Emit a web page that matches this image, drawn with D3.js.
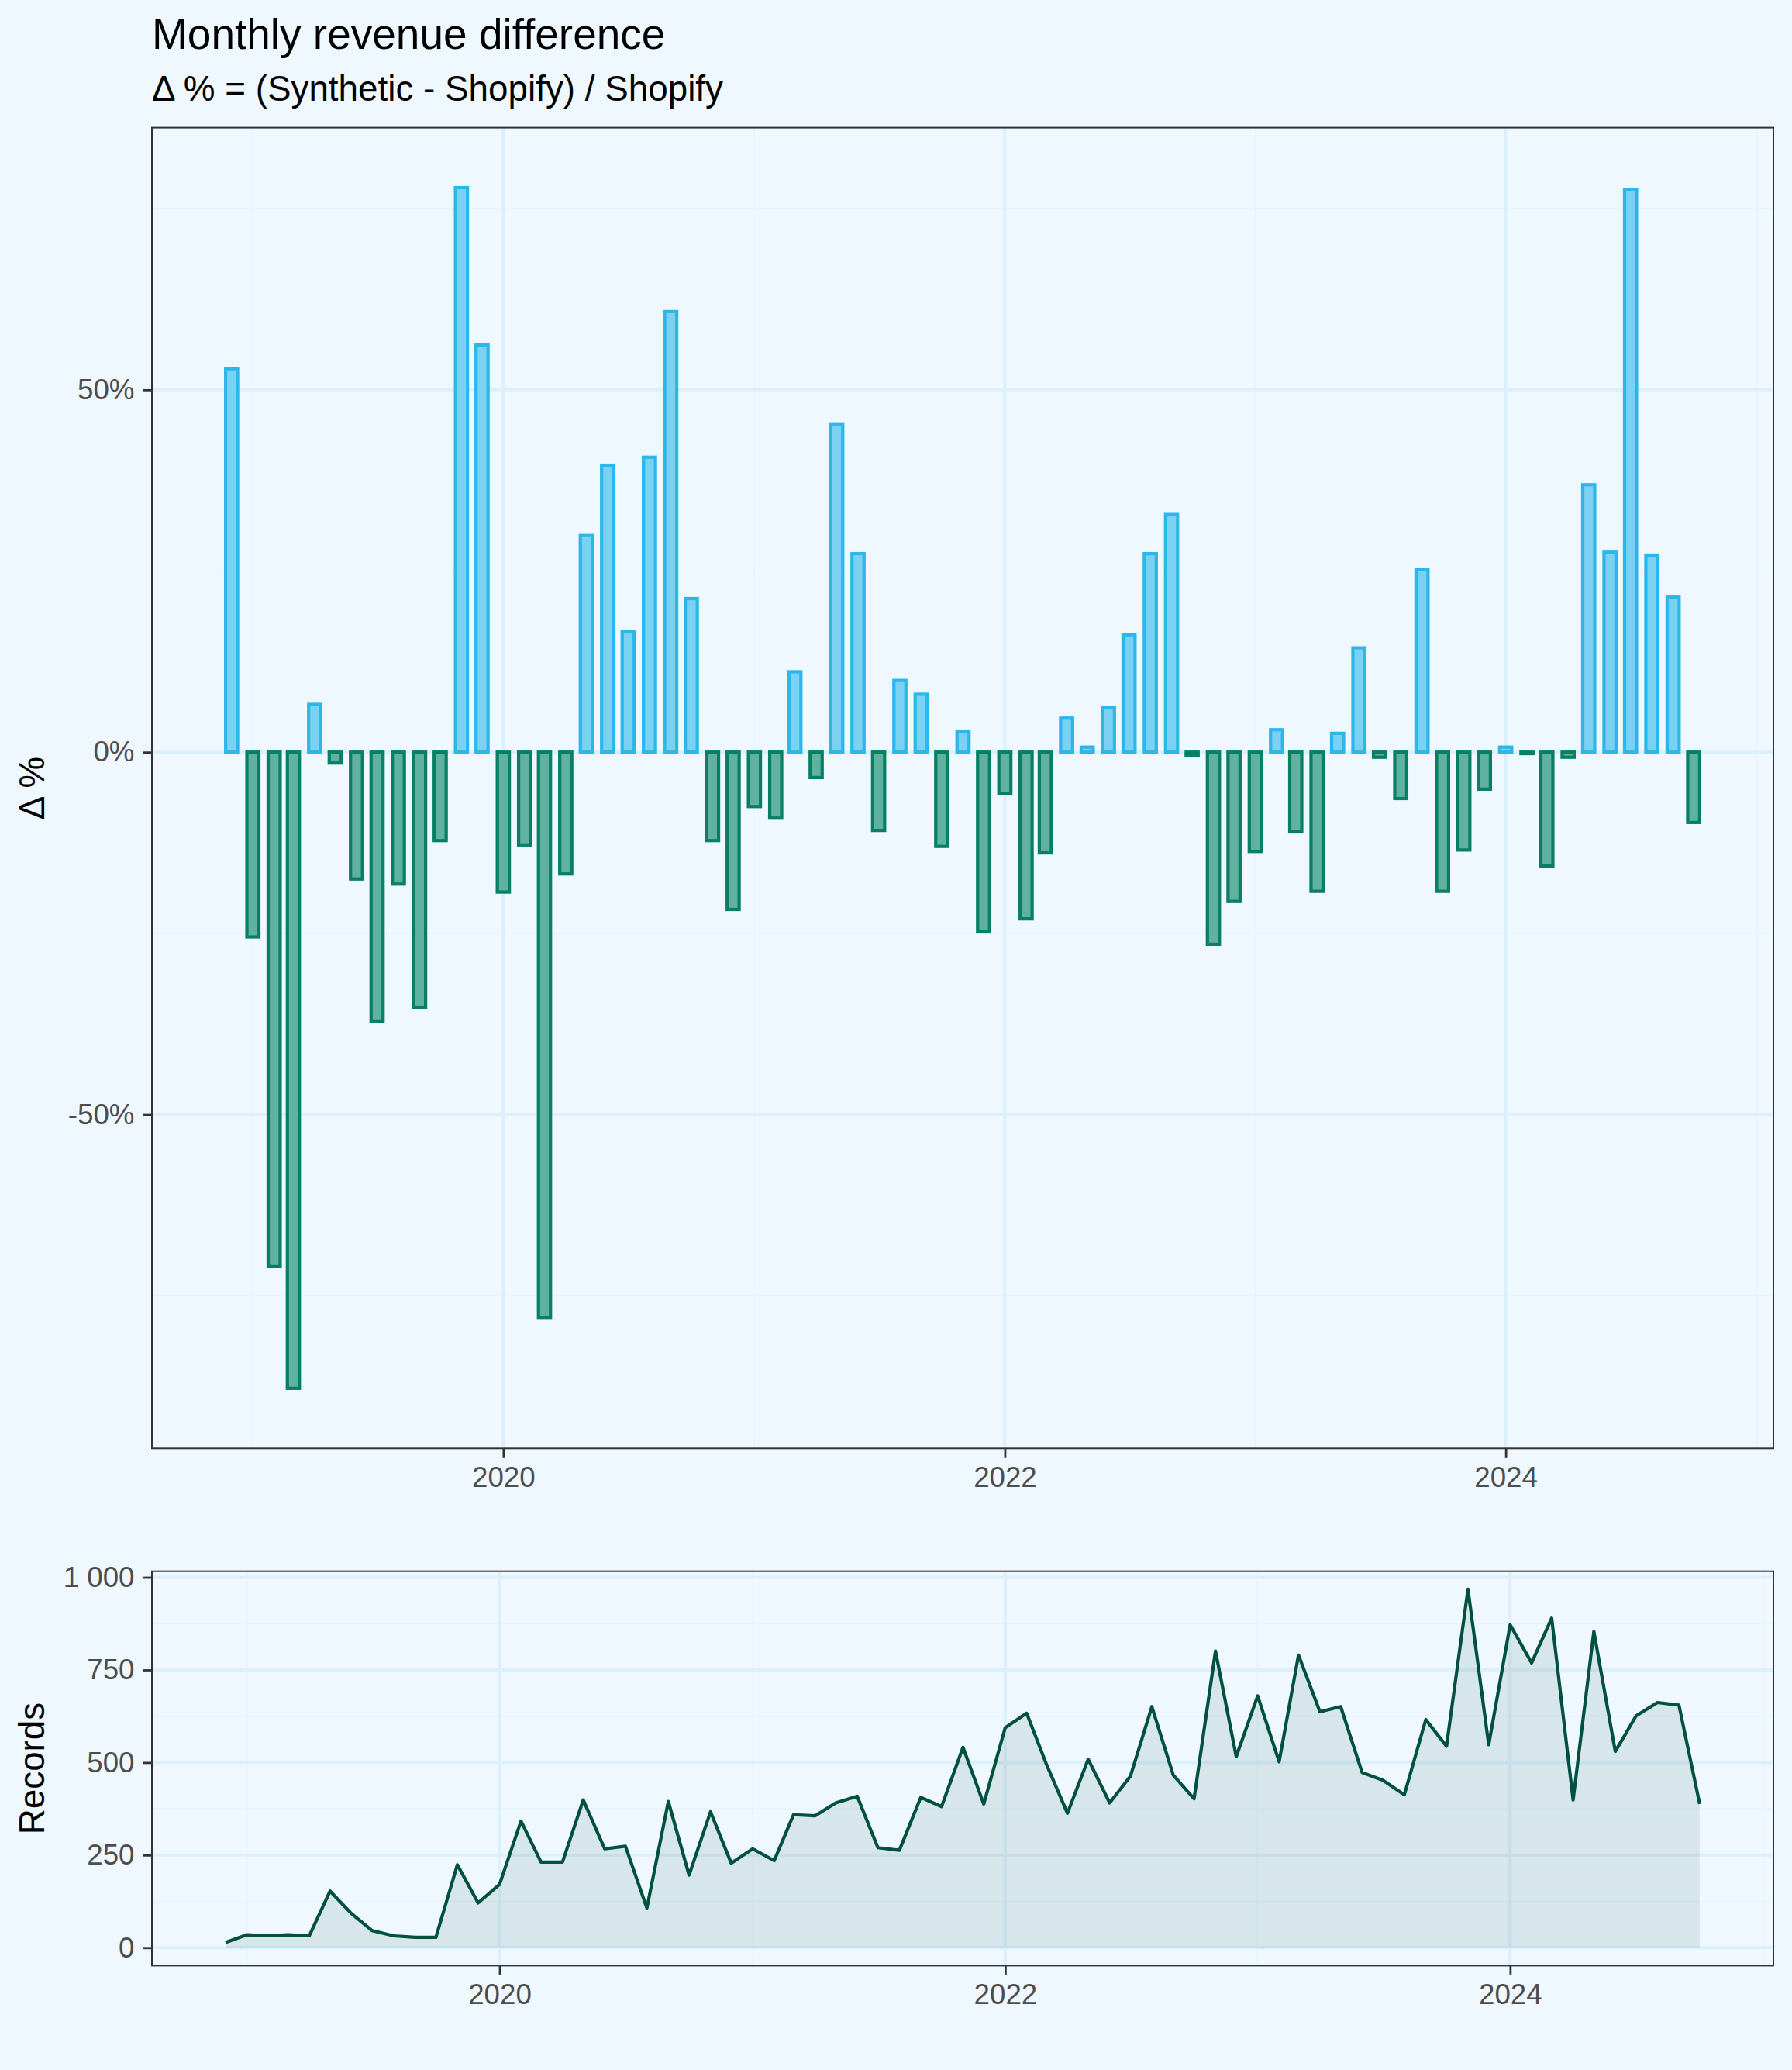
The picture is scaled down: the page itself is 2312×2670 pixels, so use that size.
<!DOCTYPE html>
<html>
<head>
<meta charset="utf-8">
<script src="https://cdn.jsdelivr.net/npm/d3@7"></script>
<style>
  html, body { margin: 0; padding: 0; background: #F0F8FF; }
  svg { display: block; font-family: "Liberation Sans", Arial, Helvetica, sans-serif; }
</style>
</head>
<body>
<div class="canvas"></div>
<script>
// months shown (one bar / one point per month)
const months = [
  "2018-12",
  "2019-01","2019-02","2019-03","2019-04","2019-05","2019-06","2019-07","2019-08","2019-09","2019-10","2019-11","2019-12",
  "2020-01","2020-02","2020-03","2020-04","2020-05","2020-06","2020-07","2020-08","2020-09","2020-10","2020-11","2020-12",
  "2021-01","2021-02","2021-03","2021-04","2021-05","2021-06","2021-07","2021-08","2021-09","2021-10","2021-11","2021-12",
  "2022-01","2022-02","2022-03","2022-04","2022-05","2022-06","2022-07","2022-08","2022-09","2022-10","2022-11","2022-12",
  "2023-01","2023-02","2023-03","2023-04","2023-05","2023-06","2023-07","2023-08","2023-09","2023-10","2023-11","2023-12",
  "2024-01","2024-02","2024-03","2024-04","2024-05","2024-06","2024-07","2024-08","2024-09","2024-10"
];

// Δ % = (Synthetic - Shopify) / Shopify
const deltaPct = [
  52.9,
  -25.5, -71.0, -87.8, 6.6, -1.5, -17.5, -37.2, -18.2, -35.2, -12.2, 77.9, 56.2,
  -19.3, -12.8, -78.0, -16.8, 29.9, 39.6, 16.6, 40.7, 60.8, 21.2, -12.2, -21.7,
  -7.5, -9.1, 11.1, -3.5, 45.3, 27.4, -10.8, 9.9, 8.0, -13.0, 2.9, -24.8,
  -5.7, -23.0, -13.9, 4.7, 0.7, 6.2, 16.2, 27.4, 32.8, -0.4, -26.5, -20.6,
  -13.7, 3.1, -11.0, -19.2, 2.6, 14.4, -0.7, -6.4, 25.2, -19.2, -13.5, -5.1,
  0.7, -0.2, -15.7, -0.7, 36.9, 27.6, 77.6, 27.2, 21.4, -9.7
];

// records per month
const records = [
  14,
  35, 32, 35, 32, 153, 92, 46, 32, 28, 28, 224, 121,
  171, 342, 231, 231, 399, 267, 274, 107, 395, 196, 367, 228,
  267, 235, 359, 356, 391, 409, 270, 263, 406, 381, 541, 388,
  594, 633, 498, 363, 509, 391, 463, 651, 466, 402, 801, 516,
  680, 502, 790, 637, 651, 473, 452, 413, 616, 544, 968, 548,
  872, 769, 890, 399, 854, 530, 626, 662, 655, 388
];

const yTicksTop = [-50, 0, 50];
const yTicksBottom = [0, 250, 500, 750, 1000];
const xTickYears = [2020, 2022, 2024];

const width = 2312;
const height = 2670;
const DAY = 864e5;
const barDays = 17.5;

const bg = "#F0F8FF";
const posStroke = "#2CB7EA", posFill = "#7BD1F1";
const negStroke = "#068060", negFill = "#60B1A0";
const lineColor = "#00503F";
const gridMajor = "#DCEFFC", gridMinor = "#E7F5FD";
const axisText = "#4D4D4D", frame = "#333333";

const parse = d3.utcParse("%Y-%m");
const bars = months.map((m, i) => ({ date: parse(m), value: deltaPct[i] }));
const counts = months.map((m, i) => ({ date: parse(m), value: records[i] }));

const panelTop = { left: 196, top: 164.6, right: 2288, bottom: 1868.3 };
const panelBot = { left: 196, top: 2026.7, right: 2288, bottom: 2535.4 };

function expand([a, b], f = 0.05) {
  const pad = (b - a) * f;
  return [a - pad, b + pad];
}

const half = barDays / 2 * DAY;
const xTop = d3.scaleUtc()
  .domain(expand([+d3.min(bars, d => d.date) - half, +d3.max(bars, d => d.date) + half]).map(t => new Date(t)))
  .range([panelTop.left, panelTop.right]);

const yTop = d3.scaleLinear()
  .domain(expand([Math.min(0, d3.min(deltaPct)), Math.max(0, d3.max(deltaPct))]))
  .range([panelTop.bottom, panelTop.top]);

const xBot = d3.scaleUtc()
  .domain(expand([+d3.min(counts, d => d.date), +d3.max(counts, d => d.date)]).map(t => new Date(t)))
  .range([panelBot.left, panelBot.right]);

const yBot = d3.scaleLinear()
  .domain(expand([0, d3.max(records)]))
  .range([panelBot.bottom, panelBot.top]);

const svg = d3.select(".canvas").append("svg")
  .attr("width", width)
  .attr("height", height);

svg.append("rect").attr("width", width).attr("height", height).attr("fill", bg);

// titles
svg.append("text")
  .attr("x", 196).attr("y", 63)
  .attr("font-size", 55).attr("fill", "#000")
  .text("Monthly revenue difference");
svg.append("text")
  .attr("x", 196).attr("y", 130)
  .attr("font-size", 45.8).attr("fill", "#000")
  .text("Δ % = (Synthetic - Shopify) / Shopify");

function yearDate(y) { return new Date(Date.UTC(y, 0, 1)); }

function drawGrid(g, p, x, y, majorY, minorY) {
  const minorYears = [2019, 2021, 2023, 2025].map(yearDate)
    .filter(d => x(d) > p.left && x(d) < p.right);
  g.append("g").selectAll("line").data(minorY).join("line")
    .attr("x1", p.left).attr("x2", p.right)
    .attr("y1", d => y(d)).attr("y2", d => y(d))
    .attr("stroke", gridMinor).attr("stroke-width", 2);
  g.append("g").selectAll("line").data(minorYears).join("line")
    .attr("x1", d => x(d)).attr("x2", d => x(d))
    .attr("y1", p.top).attr("y2", p.bottom)
    .attr("stroke", gridMinor).attr("stroke-width", 2);
  g.append("g").selectAll("line").data(majorY).join("line")
    .attr("x1", p.left).attr("x2", p.right)
    .attr("y1", d => y(d)).attr("y2", d => y(d))
    .attr("stroke", gridMajor).attr("stroke-width", 4);
  g.append("g").selectAll("line").data(xTickYears.map(yearDate)).join("line")
    .attr("x1", d => x(d)).attr("x2", d => x(d))
    .attr("y1", p.top).attr("y2", p.bottom)
    .attr("stroke", gridMajor).attr("stroke-width", 4);
}

function drawAxes(p, x, y, yTicks, yFormat) {
  const gx = svg.append("g")
    .attr("transform", `translate(0, ${p.bottom})`)
    .call(d3.axisBottom(x)
      .tickValues(xTickYears.map(yearDate))
      .tickFormat(d3.utcFormat("%Y"))
      .tickSize(11.5).tickPadding(12));
  const gy = svg.append("g")
    .attr("transform", `translate(${p.left}, 0)`)
    .call(d3.axisLeft(y)
      .tickValues(yTicks)
      .tickFormat(yFormat)
      .tickSize(11.5).tickPadding(11));
  [gx, gy].forEach(g => {
    g.select(".domain").remove();
    g.attr("font-family", null).attr("font-size", 36.7);
    g.selectAll(".tick line").attr("stroke", frame).attr("stroke-width", 2.8);
    g.selectAll(".tick text").attr("fill", axisText);
  });
  gx.selectAll(".tick text").attr("dy", "0.72em");
  svg.append("rect")
    .attr("x", p.left).attr("y", p.top)
    .attr("width", p.right - p.left).attr("height", p.bottom - p.top)
    .attr("fill", "none").attr("stroke", frame).attr("stroke-width", 2);
}

// ---- top panel: bars ----
const gTop = svg.append("g");
drawGrid(gTop, panelTop, xTop, yTop, yTicksTop, [-75, -25, 25, 75]);

gTop.append("g").selectAll("rect").data(bars).join("rect")
  .attr("x", d => xTop(new Date(+d.date - half)))
  .attr("width", d => xTop(new Date(+d.date + half)) - xTop(new Date(+d.date - half)))
  .attr("y", d => yTop(Math.max(0, d.value)))
  .attr("height", d => Math.abs(yTop(d.value) - yTop(0)))
  .attr("fill", d => d.value >= 0 ? posFill : negFill)
  .attr("stroke", d => d.value >= 0 ? posStroke : negStroke)
  .attr("stroke-width", 4.2);

drawAxes(panelTop, xTop, yTop, yTicksTop, d => d + "%");

svg.append("text")
  .attr("transform", `translate(57, ${(panelTop.top + panelTop.bottom) / 2}) rotate(-90)`)
  .attr("text-anchor", "middle")
  .attr("font-size", 45.8).attr("fill", "#000")
  .text("Δ %");

// ---- bottom panel: records ----
const gBot = svg.append("g");
drawGrid(gBot, panelBot, xBot, yBot, yTicksBottom, [125, 375, 625, 875]);

const area = d3.area()
  .x(d => xBot(d.date))
  .y0(yBot(0))
  .y1(d => yBot(d.value));
const line = d3.line()
  .x(d => xBot(d.date))
  .y(d => yBot(d.value));

gBot.append("path").datum(counts)
  .attr("d", area)
  .attr("fill", lineColor).attr("fill-opacity", 0.1);
gBot.append("path").datum(counts)
  .attr("d", line)
  .attr("fill", "none")
  .attr("stroke", lineColor).attr("stroke-width", 4.2)
  .attr("stroke-linejoin", "round");

const fmtThousands = d3.formatLocale({ decimal: ".", thousands: " ", grouping: [3], currency: ["", ""] }).format(",");
drawAxes(panelBot, xBot, yBot, yTicksBottom, fmtThousands);

svg.append("text")
  .attr("transform", `translate(57, ${(panelBot.top + panelBot.bottom) / 2}) rotate(-90)`)
  .attr("text-anchor", "middle")
  .attr("font-size", 45.8).attr("fill", "#000")
  .text("Records");
</script>
</body>
</html>
